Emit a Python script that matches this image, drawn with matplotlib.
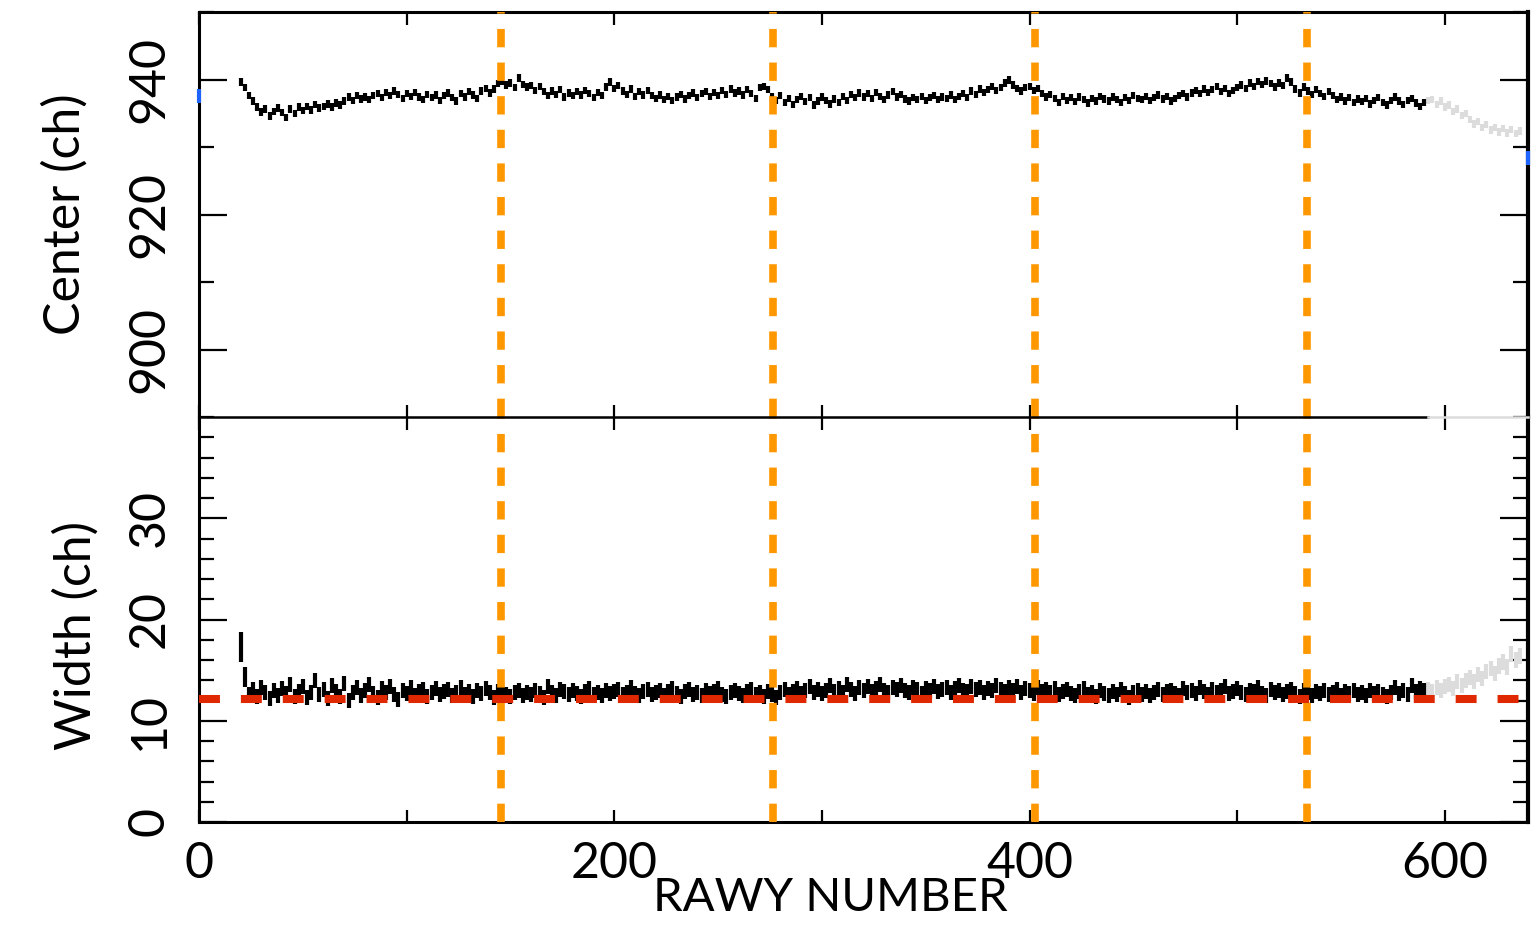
import matplotlib
matplotlib.use("Agg")
import matplotlib.pyplot as plt
import numpy as np

plt.rcParams['font.family'] = ['Lato', 'DejaVu Sans']

# RAWY rows (every 2nd row) for the fitted part and the excluded tail
rawy = np.arange(20, 592, 2)
rawy_tail = np.arange(592, 638, 2)

# line center (ch)
center = [
    939.6, 938.8, 937.6, 936.8, 935.9, 935.2, 935.6, 934.6, 935.3, 935.8,
    935.1, 934.4, 935.6, 935.0, 935.9, 935.4, 936.0, 935.5, 936.3, 935.8,
    936.0, 936.4, 935.9, 936.5, 936.2, 936.8, 937.4, 936.9, 937.6, 937.1,
    937.4, 937.0, 937.6, 937.9, 937.3, 938.1, 937.6, 938.3, 937.8, 937.2,
    937.9, 937.5, 938.1, 937.4, 937.0, 937.8, 937.3, 937.7, 936.9, 937.6,
    938.0, 937.3, 936.8, 937.9, 937.4, 938.2, 937.7, 937.2, 938.3, 938.7,
    938.0, 938.6, 939.4, 939.8, 939.2, 939.5, 938.8, 940.2, 939.3, 938.9,
    939.1, 938.4, 939.0, 938.2, 937.6, 938.3, 937.8, 938.5, 937.4, 938.0,
    937.6, 938.2, 937.7, 938.4, 937.9, 937.3, 938.1, 937.6, 938.9, 939.6,
    938.7, 939.1, 938.3, 937.8, 938.6, 937.5, 938.2, 937.7, 938.4, 937.6,
    937.2, 937.7, 937.0, 937.5, 936.9, 937.4, 937.8, 937.1, 937.6, 938.0,
    937.3, 937.9, 938.2, 937.5, 938.1, 937.6, 938.4, 937.8, 938.6, 938.0,
    938.3, 937.7, 938.5, 937.9, 937.2, 938.8, 939.0, 938.5, 937.4, 936.9,
    937.6, 936.6, 937.2, 936.3, 937.0, 937.5, 936.7, 937.3, 936.2, 936.8,
    937.4, 936.9, 936.4, 937.1, 936.6, 937.5, 936.9, 937.8, 937.3, 938.0,
    937.4, 937.9, 937.2, 938.1, 937.5, 937.0, 937.7, 938.2, 937.4, 937.8,
    937.1, 936.8, 937.3, 937.0, 937.5, 936.9, 937.3, 937.6, 937.0, 937.4,
    937.2, 937.7, 937.0, 937.5, 937.9, 937.3, 938.3, 937.8, 938.6, 938.1,
    938.5, 939.0, 938.4, 938.8, 939.5, 939.9, 939.2, 938.7, 938.3, 938.8,
    939.0, 938.4, 938.7, 937.9, 937.4, 937.8, 937.2, 936.6, 937.5, 936.9,
    937.3, 936.7, 937.4, 937.0, 936.5, 937.2, 936.8, 937.5, 937.1, 936.8,
    937.4, 937.0, 936.6, 937.3, 936.9, 937.6, 937.2, 937.0, 937.5, 936.9,
    937.3, 937.7, 937.1, 937.5, 936.8, 937.2, 937.6, 937.9, 937.4, 938.0,
    938.4, 937.9, 938.6, 938.1, 938.5, 939.0, 938.2, 938.7, 937.9, 938.4,
    938.8, 939.2, 938.7, 939.5, 939.0, 939.7, 939.3, 939.8, 939.4, 938.9,
    939.5, 939.1, 940.2, 939.6, 938.6, 938.0, 938.9, 938.3, 937.8, 938.5,
    937.9, 937.5, 938.2, 937.6, 937.0, 937.4, 936.8, 937.3, 936.6, 937.1,
    936.7, 937.2, 936.4, 936.9, 937.3, 936.6, 936.2, 936.9, 937.4, 936.8,
    936.3, 936.9, 937.2, 936.5, 936.0, 936.6,
]
center_tail = [
    936.9, 937.0, 936.3, 936.8, 935.9, 936.2, 935.3, 935.6, 934.7, 935.0,
    934.1, 933.4, 933.8, 932.9, 933.3, 932.5, 932.9, 932.2, 932.7, 932.1,
    932.6, 932.0, 932.4,
]
center_err = 0.55

# line width (ch)
width = [
    17.3, 14.3, 12.6, 13.1, 12.4, 13.3, 12.8, 12.2, 13.0, 12.5,
    13.2, 12.7, 13.6, 12.4, 12.9, 13.4, 12.3, 12.8, 14.0, 12.6,
    13.1, 12.2, 13.5, 12.9, 12.4, 13.7, 12.0, 12.8, 13.3, 12.5,
    13.0, 13.6, 12.7, 12.3, 13.2, 12.8, 13.4, 12.6, 12.1, 13.0,
    12.7, 13.3, 12.5, 12.9, 13.1, 12.4, 12.8, 13.2, 12.6, 12.9,
    13.1, 12.5, 12.8, 13.3, 12.6, 12.9, 12.4, 13.0, 12.7, 13.2,
    12.8, 12.3, 12.9, 13.1, 12.6, 12.4, 12.8, 13.0, 12.5, 12.8,
    12.6, 13.0, 12.7, 12.3, 13.4, 12.8, 12.5, 13.1, 12.9, 12.6,
    13.0, 12.7, 12.4, 12.9, 13.2, 12.6, 12.8, 12.5, 13.0, 12.7,
    12.9, 13.1, 12.6, 12.8, 13.3, 12.7, 12.5, 12.9, 13.1, 12.6,
    12.8, 13.0, 12.5, 12.9, 13.2, 12.7, 12.4, 12.9, 13.1, 12.6,
    12.8, 12.5, 13.0, 12.7, 12.9, 13.2, 12.6, 12.4, 12.8, 13.0,
    12.7, 12.5, 12.9, 13.1, 12.6, 12.8, 12.4, 12.9, 12.6, 12.3,
    12.8, 13.1, 12.6, 12.9, 13.2, 12.7, 13.0, 13.4, 12.8, 13.1,
    12.7, 13.0, 13.5, 12.9, 13.2, 12.8, 13.6, 13.1, 12.7, 13.3,
    13.0, 13.4, 12.9, 13.2, 13.6, 13.0, 12.8, 13.3, 13.1, 13.5,
    13.0, 12.8, 13.3, 13.1, 12.7, 13.2, 13.0, 13.4, 12.9, 13.1,
    13.3, 12.8, 13.2, 13.5, 13.0, 12.9, 13.4, 13.1, 13.3, 12.8,
    13.2, 13.0, 13.5, 13.1, 12.9, 13.3, 13.0, 13.4, 12.8, 13.2,
    13.0, 12.7, 13.3, 12.9, 13.1, 12.8, 13.2, 12.6, 12.9, 13.1,
    12.7, 12.5, 12.9, 13.2, 12.6, 12.8, 12.4, 13.0, 12.7, 12.5,
    12.9, 12.6, 13.1, 12.7, 12.3, 12.8, 13.0, 12.6, 12.9, 12.5,
    12.8, 13.1, 12.6, 12.9, 13.0, 12.7, 12.5, 13.2, 12.8, 13.0,
    12.7, 13.3, 12.9, 12.6, 13.1, 12.8, 13.0, 13.4, 12.7, 12.9,
    13.2, 12.8, 12.6, 13.0, 12.9, 13.3, 12.7, 12.5, 13.1, 12.8,
    13.0, 12.6, 12.9, 13.1, 12.7, 12.4, 13.0, 12.8, 12.5, 12.9,
    12.7, 13.0, 12.6, 12.8, 13.1, 12.5, 12.9, 12.7, 13.0, 12.6,
    12.8, 12.5, 13.0, 12.7, 12.9, 12.6, 12.4, 12.8, 13.3, 12.7,
    13.0, 12.6, 13.5, 12.9, 13.2, 13.0,
]
width_tail = [
    13.1, 12.9, 13.3, 13.0, 13.4, 13.6, 13.2, 13.9, 13.5, 14.0,
    14.3, 13.9, 14.6, 14.2, 14.9, 15.2, 14.7, 15.4, 15.8, 15.3,
    16.6, 16.0, 16.4,
]
width_err = [1.5, 1.0] + [0.75] * (len(width) - 2)
width_tail_err = 0.75

# reference width and segment boundaries
width_ref = 12.1
boundaries = [145.4, 276.4, 402.5, 533.4]

# stray blue points at the plot edges
blue_x = [0, 640]
blue_y = [937.6, 928.3]

gray = '#dcdcdc'
orange = '#ff9800'
red = '#e02800'
blue = '#1e64ff'
x_last = 592

fig = plt.figure(figsize=(15.33, 9.26), dpi=100)
ax1 = fig.add_axes([199/1533, 509/926, 1329/1533, 405/926])
ax2 = fig.add_axes([199/1533, 104/926, 1329/1533, 405/926])

for ax in (ax1, ax2):
    ax.set_xlim(0, 640)
    ax.set_xticks([0, 200, 400, 600])
    ax.set_xticks([100, 300, 500], minor=True)
    ax.tick_params(axis='x', which='both', direction='in', top=True, bottom=True,
                   width=1.6, color='k')
    ax.tick_params(axis='x', which='major', length=9, labelsize=36, pad=14)
    ax.tick_params(axis='x', which='minor', length=9)
    ax.tick_params(axis='y', which='both', direction='in', left=True, right=True,
                   width=1.6)
    ax.tick_params(axis='y', which='major', length=20, labelsize=36, pad=19)
    ax.tick_params(axis='y', which='minor', length=11)
    for lab in ax.get_yticklabels():
        lab.set_rotation(90)
        lab.set_va('center')
    for s in ax.spines.values():
        s.set_linewidth(2.2)
    ax.spines['right'].set_linewidth(3)
    for b in boundaries:
        ax.axvline(b, color=orange, lw=5.5, linestyle=(0, (2.4, 2.0)), zorder=4)

ax1.spines['bottom'].set_visible(False)
ax2.spines['top'].set_visible(False)

# top panel: center
ax1.set_ylim(890, 950)
ax1.set_yticks([900, 920, 940])
ax1.set_yticks([890, 910, 930, 950], minor=True)
ax1.errorbar(rawy_tail, center_tail, yerr=center_err, fmt='none', ecolor=gray,
             elinewidth=3.0, zorder=2)
ax1.errorbar(rawy, center, yerr=center_err, fmt='none', ecolor='k',
             elinewidth=3.0, zorder=3)
ax1.plot(blue_x, blue_y, linestyle='none', marker='|', color=blue, ms=10, mew=3,
         clip_on=False, zorder=5)
ax1.tick_params(labelbottom=False)
ax1.set_ylabel('Center (ch)', fontsize=36)
ax1.yaxis.set_label_coords(-0.083, 0.5)

# bottom panel: width
ax2.set_ylim(0, 40)
ax2.set_yticks([0, 10, 20, 30])
ax2.set_yticks(np.arange(2, 40, 2), minor=True)
ax2.errorbar(rawy_tail, width_tail, yerr=width_tail_err, fmt='none', ecolor=gray,
             elinewidth=3.0, zorder=2)
ax2.errorbar(rawy, width, yerr=width_err, fmt='none', ecolor='k',
             elinewidth=3.0, zorder=3)
ax2.axhline(width_ref, color=red, lw=5.8, linestyle=(0, (2.6, 2.6)), zorder=5)
ax2.set_ylabel('Width (ch)', fontsize=36)
ax2.yaxis.set_label_coords(-0.075, 0.46)

# boundary line between panels: black over the fitted rows, gray beyond
ax2.plot([0, x_last], [40, 40], color='k', lw=1.8, clip_on=False, zorder=6)
ax2.plot([x_last, 640], [40, 40], color=gray, lw=1.8, clip_on=False, zorder=6)

# right-hand ticks and the 600 tick belong to the gray overlay
for ax in (ax1, ax2):
    for t in ax.yaxis.get_major_ticks() + ax.yaxis.get_minor_ticks():
        t.tick2line.set_color(gray)
    t600 = ax.xaxis.get_major_ticks()[3]
    t600.tick1line.set_color(gray)
    t600.tick2line.set_color(gray)

fig.text(830/1533, 1 - 898/926, 'RAWY NUMBER', fontsize=34, ha='center', va='center')

fig.savefig('out.png', dpi=100)
